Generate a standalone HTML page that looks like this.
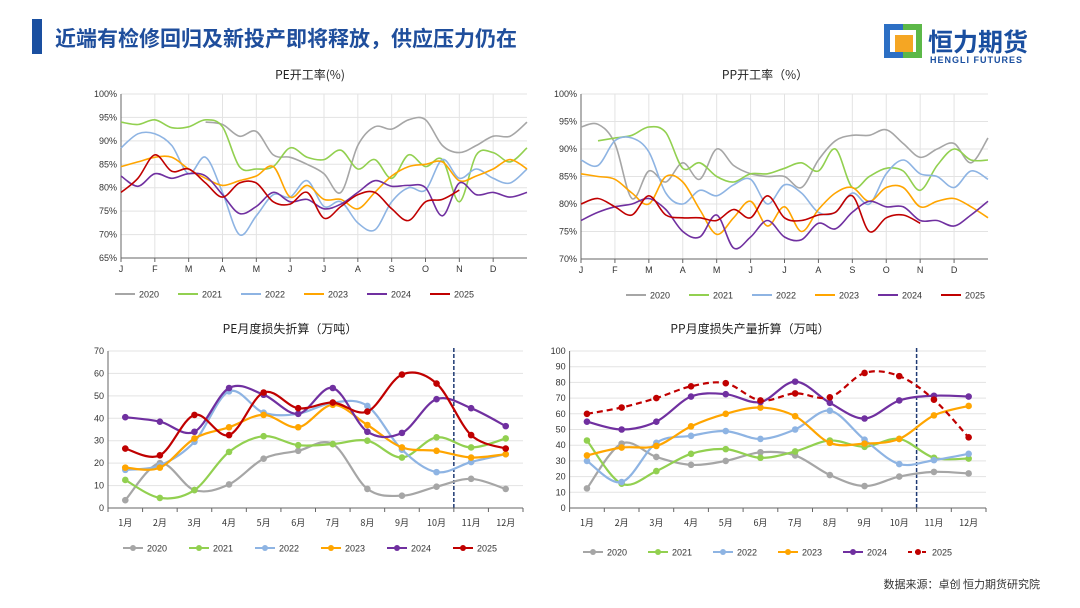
<!DOCTYPE html>
<html><head><meta charset="utf-8">
<style>
body{margin:0;width:1080px;height:608px;background:#fff;overflow:hidden;font-family:"Liberation Sans","Noto Sans CJK SC",sans-serif;}
svg{position:absolute;left:0;top:0}
</style></head>
<body>
<svg id="s" width="1080" height="608" xmlns="http://www.w3.org/2000/svg">
<rect x="32" y="19" width="10" height="35" fill="#1a4fa0"/>
<text x="55" y="46" font-size="21" font-weight="bold" fill="#1f4e9c" font-family="'Noto Sans CJK SC',sans-serif">近端有检修回归及新投产即将释放，供应压力仍在</text>
<g>
<rect x="884" y="24" width="38" height="34" fill="#2c6fc4"/>
<rect x="903" y="24" width="19" height="34" fill="#5cb848"/>
<rect x="890" y="30" width="26" height="22" fill="#fff"/>
<rect x="895" y="35" width="18" height="17" fill="#f5a623"/>
<text x="928" y="51" font-size="25" font-weight="bold" fill="#1a4fa0" font-family="'Noto Sans CJK SC',sans-serif">恒力期货</text>
<text x="930" y="63" font-size="9" font-weight="bold" fill="#1a4fa0" letter-spacing="1">HENGLI FUTURES</text>
</g>
<text x="1040" y="588" font-size="11" text-anchor="end" fill="#333" font-family="'Noto Sans CJK SC',sans-serif">数据来源：卓创  恒力期货研究院</text>
</svg>
<script>
const years=['2020','2021','2022','2023','2024','2025'];
const colors=['#a6a6a6','#92d050','#8eb4e3','#ffa500','#7030a0','#c00000'];
const monthTicks=['J','F','M','A','M','J','J','A','S','O','N','D'];
const monthCats=['1月','2月','3月','4月','5月','6月','7月','8月','9月','10月','11月','12月'];
const peRate={
'2020':[null,null,null,null,null,94,93.5,91,92,87,86.5,85,83,79,89,93,92.5,94.5,94.5,89,87.5,89,91,91,94],
'2021':[94,93.5,94.5,92.8,93,94.5,93,84.5,84,84.5,88.5,86.5,86,88,84,86,82,87,84.5,86,77,87,87.5,85.5,88.5],
'2022':[88.5,91.5,91.5,89,83,86.5,79,70,74,78.5,78,81.5,76,77,72.5,71,77,80,79.5,86,82,84,82,81,84],
'2023':[84.5,85.5,86.5,86.5,84,82,80.5,81.5,82.5,84.5,78,80.5,77.5,77.5,75.5,79,82.5,84.5,85,85.5,81.5,82.5,84,86,84],
'2024':[82.5,80.3,83,82,83,82.5,78.5,74.5,76,79,77,77.5,75.5,76.5,79,81.5,80.3,80.5,80,74,81,78.5,79,78,79],
'2025':[79,82,87,83.5,84,81,78,81,81,77,76.5,79,73.5,76,78.5,79,75.5,73,77,77.5,79.5]};
const ppRate={
'2020':[94,94.5,91,81,86,84,87.5,84.5,90,87,85.5,85,85,83,88,91.5,92.5,92.5,93.5,91,88.5,90,91,87.5,92],
'2021':[null,91.5,92,92.5,94,93,86.5,87.5,85,84,85.5,85.5,86.5,87.5,86,90,83,85,86.5,86,82.5,87,90,88,88],
'2022':[88,87,91.5,92,89.5,82,80,82.5,81.5,83.5,84.5,80,83.5,82,78.5,78.5,82,80,85.5,88,85.5,85,83,86,84.5],
'2023':[85.5,85,84.5,82,80,85,84,79,74.5,77.5,80.5,76,79.5,75,79,82,83,80.5,83,83,79.5,80.5,81,79.5,77.5],
'2024':[77,78.5,79.5,80,81,79,75,74,78,72,74,77,74,73.5,76.5,75.5,78.5,80.5,79.5,79.5,77,77,76,78,80.5],
'2025':[80,81,79.5,78,81.5,78,77.5,77.5,77,79,77.5,81.5,77.5,77,78,78.5,81.5,75,77.5,78,76.5]};
const peLoss={
'2020':[3.5,20,8,10.5,22,25.5,28.5,8.5,5.5,9.5,13,8.5],
'2021':[12.5,4.5,8,25,32,28,28.5,30,22.5,31.5,27,31],
'2022':[17,19,29.5,52,42.5,42,47,45.5,26,16,20.5,24],
'2023':[18,18,31,36,41.5,36,46,37,27,25.5,22.5,24],
'2024':[40.5,38.5,34,53.5,50.5,42,53.5,34,33.5,48.5,44.5,36.5],
'2025':[26.5,23.5,41.5,32.5,51.5,44.5,47,43,59.5,55.5,32.5,26.5]};
const ppLoss={
'2020':[12.5,41,32.5,27.5,30,35.5,33.5,21,14,20,23,22],
'2021':[43,15.5,23.5,34.5,37.5,32,36,43,39,44,32,31.5],
'2022':[30,16.5,41.5,46,49,44,50,62,43.5,28,30.5,34.5],
'2023':[33.5,38.5,39.5,52,60,64,58.5,41.5,41,44,59,65],
'2024':[55,50,55,71,72.5,67.5,80.5,67,57,68.5,71.5,71],
'2025':[60,64,70,77.5,79.5,68.5,73,70.5,86,84,69,45]};
const peRateTicks=[65,70,75,80,85,90,95,100];
const ppRateTicks=[70,75,80,85,90,95,100];
const peLossTicks=[0,10,20,30,40,50,60,70];
const ppLossTicks=[0,10,20,30,40,50,60,70,80,90,100];

const NS='http://www.w3.org/2000/svg';
const root=document.getElementById('s');
function mk(tag,attrs,parent){const e=document.createElementNS(NS,tag);for(const k in attrs)e.setAttribute(k,attrs[k]);(parent||root).appendChild(e);return e;}
function smooth(pts){
  let d='M'+pts[0][0].toFixed(1)+','+pts[0][1].toFixed(1);
  for(let i=0;i<pts.length-1;i++){
    const p0=pts[i-1]||pts[i],p1=pts[i],p2=pts[i+1],p3=pts[i+2]||p2;
    const c1=[p1[0]+(p2[0]-p0[0])/6,p1[1]+(p2[1]-p0[1])/6];
    const c2=[p2[0]-(p3[0]-p1[0])/6,p2[1]-(p3[1]-p1[1])/6];
    d+='C'+c1.map(v=>v.toFixed(1))+' '+c2.map(v=>v.toFixed(1))+' '+p2.map(v=>v.toFixed(1));
  }
  return d;
}
function chart(cfg){
  const g=mk('g',{});
  
  
  const ys=v=>cfg.y1-(v-cfg.min)/(cfg.max-cfg.min)*(cfg.y1-cfg.y0);
  const t=mk('text',{x:cfg.tx,y:cfg.ty,'font-size':12,'text-anchor':'middle',fill:'#222','font-family':"'Noto Sans CJK SC',sans-serif"},g);
  t.textContent=cfg.title;
  
  
  cfg.ticks.forEach(v=>{
    const y=ys(v);
    if(v!==cfg.min){const l=mk('line',{x1:cfg.x0,x2:cfg.x1,y1:y,y2:y,stroke:'#e3e3e3','stroke-width':1},g);}
    const tl=mk('text',{x:cfg.x0-4,y:y+3,'font-size':9,'text-anchor':'end',fill:'#333'},g);
    tl.textContent=v+(cfg.pct?'%':'');
    
    
  });
  let xs;
  if(cfg.daily){
    const mw=(cfg.x1-cfg.x0)/12;
    xs=i=>cfg.x0+i*(cfg.x1-cfg.x0)/24;
    monthTicks.forEach((m,i)=>{
      const x=cfg.x0+i*mw;
      if(i>0){const l=mk('line',{x1:x,x2:x,y1:cfg.y0,y2:cfg.y1,stroke:'#e3e3e3'},g);}
      mk('line',{x1:x,x2:x,y1:cfg.y1,y2:cfg.y1+4,stroke:'#666'},g);
      const tl=mk('text',{x:x,y:cfg.y1+14,'font-size':9,'text-anchor':'middle',fill:'#333'},g);
      tl.textContent=m;
      
      
    });
  }else{
    const bw=(cfg.x1-cfg.x0)/12;
    xs=i=>cfg.x0+(i+0.5)*bw;
    for(let i=0;i<=12;i++)mk('line',{x1:cfg.x0+i*bw,x2:cfg.x0+i*bw,y1:cfg.y1,y2:cfg.y1+4,stroke:'#666'},g);
    monthCats.forEach((m,i)=>{
      const tl=mk('text',{x:xs(i),y:cfg.y1+18,'font-size':9,'text-anchor':'middle',fill:'#333','font-family':"'Noto Sans CJK SC',sans-serif"},g);
      tl.textContent=m;
      
      
    });
    const dx=xs(9.5);
    const dl=mk('line',{x1:dx,x2:dx,y1:cfg.y0-3,y2:cfg.y1,stroke:'#1f3a73','stroke-width':1.5,'stroke-dasharray':'4,2'},g);
    
    
  }
  mk('line',{x1:cfg.x0,x2:cfg.x0,y1:cfg.y0,y2:cfg.y1,stroke:'#666'},g);
  mk('line',{x1:cfg.x0,x2:cfg.x1,y1:cfg.y1,y2:cfg.y1,stroke:'#666'},g);
  years.forEach((yr,k)=>{
    const vals=cfg.data[yr];
    const sg=mk('g',{},g);
    
    
    let seg=[];const segs=[];
    vals.forEach((v,i)=>{if(v==null){if(seg.length)segs.push(seg);seg=[];}else seg.push([xs(i),ys(v)]);});
    if(seg.length)segs.push(seg);
    const dash=(!cfg.daily&&cfg.dash2025&&yr==='2025')?'6,4':'none';
    segs.forEach(s=>{const p=mk('path',{d:smooth(s),fill:'none',stroke:colors[k],'stroke-width':cfg.daily?1.6:2.2,'stroke-dasharray':dash},sg);});
    if(!cfg.daily){
      vals.forEach((v,i)=>{if(v==null)return;const c=mk('circle',{cx:xs(i),cy:ys(v),r:3.3,fill:colors[k]},sg);});
    }
    const lx=cfg.lx+k*cfg.ls, ly=cfg.ly;
    const lg=mk('g',{},g);
    
    
    mk('line',{x1:lx,x2:lx+20,y1:ly,y2:ly,stroke:colors[k],'stroke-width':2,'stroke-dasharray':dash==='none'?'none':'4,3'},lg);
    if(!cfg.daily)mk('circle',{cx:lx+10,cy:ly,r:3,fill:colors[k]},lg);
    const lt=mk('text',{x:lx+24,y:ly+3.5,'font-size':9,fill:'#333'},lg);
    lt.textContent=yr;
  });
}
chart({name:'pe-operating-rate-chart',title:'PE开工率(%)',tx:310,ty:79,x0:121,x1:527,y0:94,y1:258,min:65,max:100,ticks:peRateTicks,pct:true,daily:true,data:peRate,lx:115,ls:63,ly:294});
chart({name:'pp-operating-rate-chart',title:'PP开工率（%）',tx:765,ty:79,x0:581,x1:988,y0:94,y1:259,min:70,max:100,ticks:ppRateTicks,pct:true,daily:true,data:ppRate,lx:626,ls:63,ly:295});
chart({name:'pe-monthly-loss-chart',title:'PE月度损失折算（万吨）',tx:290,ty:333,x0:108,x1:523,y0:351,y1:508,min:0,max:70,ticks:peLossTicks,daily:false,data:peLoss,lx:123,ls:66,ly:548});
chart({name:'pp-monthly-loss-chart',title:'PP月度损失产量折算（万吨）',tx:750,ty:333,x0:569.6,x1:986,y0:351,y1:508,min:0,max:100,ticks:ppLossTicks,daily:false,dash2025:true,data:ppLoss,lx:583,ls:65,ly:552});
</script>
</body></html>
